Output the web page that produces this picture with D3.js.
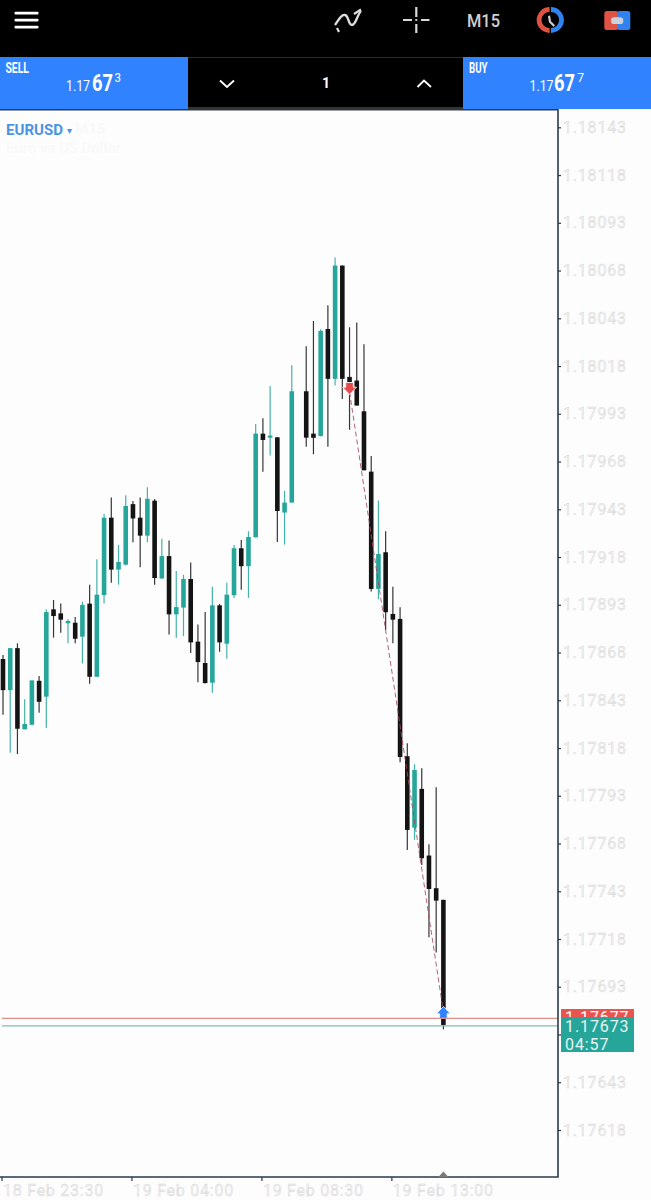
<!DOCTYPE html>
<html><head><meta charset="utf-8">
<script src="https://cdn.jsdelivr.net/npm/d3@7"></script>
<style>html,body{margin:0;padding:0;background:#fdfdfd}svg{display:block}text{font-family:Roboto,sans-serif}</style>
</head><body><svg id="c" width="651" height="1200"></svg>
<script>
// Values in price units ×100000 (i.e. 117866.7 = 1.178667). Index 41 has no bar.
const highs=[117866.7,117870.3,117872.8,117843.5,117853.4,117855.7,117890.6,117895.5,117893.7,117885.5,117886.6,117894.6,117903.5,117916.8,117940.5,117949.2,117924.3,117950.4,117947.3,117949.2,117954.5,117948.4,117927.6,117926.7,117910.7,117908.7,117915.2,117882.7,117889.2,117902.5,117893.4,117904.5,117924.3,117926.9,117931.5,117987.7,117990.6,118007.6,117980.7,117952.6,118018.4,null,118028.4,118041.6,118037.3,118049.8,118074.8,118070.6,118038.3,118040.8,118029.4,117970.9,117947.6,117931.5,117902.5,117891.7,117820.5,117809.5,117807.4,117767.6,117797.5,117738.5];
const lows=[117835.4,117815.5,117814.8,117827.8,117829.9,117836.5,117828.5,117875.8,117878.4,117872.8,117872.8,117862.3,117851.7,117855.3,117893.7,117904.5,117903.5,117913.6,117925.8,117912.6,117925.8,117903.5,117906.5,117877.5,117875.8,117876.6,117867.7,117852.5,117851.8,117847.0,117868.4,117864.8,117896.6,117900.9,117896.6,117928.3,117962.7,117971.1,117925.9,117924.5,117946.5,null,117975.8,117971.8,117981.1,117975.8,118007.8,118000.8,117984.6,117997.3,117963.4,117899.9,117895.9,117879.8,117872.8,117810.5,117764.6,117769.9,117756.8,117718.9,117710.9,117670.8];
const opens=[117864.6,117848.3,117870.3,117827.8,117830.2,117853.2,117844.9,117890.6,117888.5,117883.3,117883.6,117876.3,117893.6,117855.3,117898.1,117938.6,117911.4,117914.0,117945.7,117938.6,117929.2,117947.5,117906.8,117918.5,117888.0,117891.5,117906.5,117873.7,117862.5,117852.2,117892.7,117872.6,117898.0,117922.6,117913.2,117928.3,117982.6,117980.5,117980.7,117941.3,117946.5,null,118004.8,117982.6,117981.4,118037.4,118011.3,118070.6,118012.3,118010.4,117994.3,117962.7,117901.3,117920.5,117888.2,117885.6,117813.7,117776.3,117796.6,117761.7,117744.6,117738.5];
const closes=[117848.3,117870.3,117828.1,117830.6,117853.4,117842.2,117889.2,117887.1,117885.2,117884.5,117875.2,117892.9,117855.3,117898.3,117938.6,117911.4,117915.4,117944.7,117938.2,117929.2,117948.5,117907.0,117918.5,117888.0,117891.8,117906.5,117873.3,117863.0,117852.0,117892.7,117873.3,117898.3,117922.6,117913.2,117928.5,117982.6,117979.3,117981.6,117942.1,117946.5,118004.8,null,117980.5,117980.4,118036.4,118011.3,118070.6,118011.3,118009.5,117997.3,117963.4,117901.3,117919.6,117889.1,117885.2,117813.3,117775.1,117806.5,117760.3,117744.2,117738.1,117673.0];
const priceTicks=[1.18143,1.18118,1.18093,1.18068,1.18043,1.18018,1.17993,1.17968,1.17943,1.17918,1.17893,1.17868,1.17843,1.17818,1.17793,1.17768,1.17743,1.17718,1.17693,1.17668,1.17643,1.17618];
const timeIndex=[0,18,36,54];
const timeLabels=["18 Feb 23:30","19 Feb 04:00","19 Feb 08:30","19 Feb 13:00"];
const bidPrice=1.17673, askPrice=1.17677;
const tradeIndex=[48,61], tradePrice=[1.180044,1.176798];
const arrowPrice=[1.180065,1.176793];

const svg=d3.select("#c");
const TEAL="#26a69a",BLACK="#141414",BLUE="#3082ff",NAVY="#2b3a4e";
const x=d3.scaleLinear().domain([0,61]).range([3,443.4]);
const y=d3.scaleLinear().domain([1.18143,1.17618]).range([127.3,1130]);
const py=v=>y(v/100000);
const rect=(g,a,b,w,h,f)=>g.append("rect").attr("x",a).attr("y",b).attr("width",w).attr("height",h).attr("fill",f);

// chart
svg.append("rect").attr("width",651).attr("height",1200).attr("fill","#fdfdfd");
svg.append("text").attr("x",75).attr("y",134).attr("font-size",15).attr("font-weight",700).attr("fill","#f9f9f9").text("M15");
svg.append("text").attr("x",6).attr("y",153).attr("font-size",15).attr("font-weight",500).attr("fill","#f9f9f9").text("Euro vs US Dollar");

const bars=d3.range(highs.length).filter(i=>highs[i]!==null);
const isUp=i=>closes[i]>opens[i];
const g=svg.append("g");
g.selectAll("line.w").data(bars).join("line").attr("class","w")
 .attr("x1",x).attr("x2",x).attr("y1",i=>py(highs[i])).attr("y2",i=>py(lows[i]))
 .attr("stroke",i=>isUp(i)?TEAL:BLACK).attr("stroke-width",1.2).attr("opacity",.85);
g.selectAll("rect.b").data(bars).join("rect").attr("class","b")
 .attr("x",i=>x(i)-2.3).attr("width",4.6)
 .attr("y",i=>py(Math.max(opens[i],closes[i])))
 .attr("height",i=>Math.max(1.6,Math.abs(py(opens[i])-py(closes[i]))))
 .attr("fill",i=>isUp(i)?TEAL:BLACK);

// trade line + arrows
svg.append("path").attr("d",d3.line().x(d=>x(d[0])).y(d=>y(d[1]))(tradeIndex.map((d,i)=>[d,tradePrice[i]])))
 .attr("fill","none").attr("stroke","#a8475a").attr("stroke-width",1).attr("stroke-dasharray","5,3").attr("opacity",.85);
const arrowAt=(idx,p,dir,col)=>{
  const X=x(idx),Y=y(p);
  svg.append("path").attr("transform",`translate(${X},${Y}) scale(1,${dir})`)
   .attr("d","M0,-6.5L7,0.8L3.8,0.8L3.8,5.5L-3.8,5.5L-3.8,0.8L-7,0.8Z")
   .attr("fill",col).attr("stroke","#fff").attr("stroke-width",.8);
};
arrowAt(tradeIndex[0],arrowPrice[0],-1,"#e6494e");
arrowAt(tradeIndex[1],arrowPrice[1],1,BLUE);

// current price lines
[[askPrice,"#de8f8b"],[bidPrice,"#7dbdb8"]].forEach(([p,c])=>{
  svg.append("line").attr("x1",2).attr("x2",558).attr("y1",y(p)+1).attr("y2",y(p)+1).attr("stroke",c).attr("stroke-width",1.2);
});

// axes
const yAxis=svg.append("g").attr("transform","translate(558,0)")
 .call(d3.axisRight(y).tickValues(priceTicks).tickFormat(d3.format(".5f")).tickSize(3).tickPadding(2));
const xAxis=svg.append("g").attr("transform","translate(-1.5,1177)")
 .call(d3.axisBottom(x).tickValues(timeIndex).tickFormat((d,i)=>timeLabels[i]).tickSize(4).tickPadding(1));
[yAxis,xAxis].forEach(a=>{
  a.select(".domain").remove();
  a.selectAll(".tick line").attr("stroke",NAVY).attr("stroke-width",1.2);
  a.selectAll("text").attr("font-size",16).attr("font-family","Roboto,sans-serif")
   .attr("fill","#f0f0f0").attr("stroke","#d6d6d6").attr("stroke-width",.35);
});
yAxis.selectAll("text").style("letter-spacing","0.8px");
xAxis.selectAll("text").attr("text-anchor","start").attr("x",1).attr("y",13).attr("dy",".35em").style("letter-spacing","0.75px");
svg.append("path").attr("d","M0,1177H558V109").attr("fill","none").attr("stroke",NAVY).attr("stroke-width",1.6);
svg.append("path").attr("transform",`translate(${x(61)},1177)`).attr("d","M-5,0L0,-5.5L5,0Z").attr("fill","#7a7a7a");

// price tags
rect(svg,561,1009,73,12,"#ea5450");
svg.append("text").attr("x",565).attr("y",1023).attr("font-size",16).attr("fill","#fff").style("letter-spacing","0.9px").text(askPrice.toFixed(5));
rect(svg,561,1017,73,35,TEAL);
svg.append("text").attr("x",565).attr("y",1032).attr("font-size",16).attr("fill","#e6f4f2").style("letter-spacing","0.9px").text(bidPrice.toFixed(5));
svg.append("text").attr("x",565).attr("y",1050).attr("font-size",16).attr("fill","#e6f4f2").style("letter-spacing","0.9px").text("04:57");

// header
rect(svg,0,0,651,57,"#000");
rect(svg,0,57,188,52,BLUE); rect(svg,188,57,275,51,"#000"); rect(svg,463,57,188,52,BLUE);
rect(svg,188,57,275,1,"#2a2a30"); rect(svg,188,107,275,2,"#333");
rect(svg,0,109,558,1.5,NAVY);
[13,20,27].forEach(v=>rect(svg,14.5,v-1.3,24,2.8,"#fff").attr("rx",1));
const T=(s,a,b,fs,w,fw,col)=>{const t=svg.append("text").attr("x",a).attr("y",b).attr("font-size",fs).attr("font-weight",fw||400).attr("fill",col||"#fff").text(s);if(w)t.attr("textLength",w).attr("lengthAdjust","spacingAndGlyphs");return t;};
T("M15",467,27,19,33,500,"#d0d0d0");
T("SELL",5.4,73,14,23.6,700); T("BUY",469,73,14,18.6,700);
T("1.17",66,91,15,24,400); T("67",92,91,24,21,700); T("3",114.5,82,13,6.5,400);
T("1.17",529.5,91,15,24,400); T("67",554,91,24,21,700); T("7",577.2,82,13,6.8,400);
T("1",322,88,14,null,700);
const stroke=(d,col,w)=>svg.append("path").attr("d",d).attr("fill","none").attr("stroke",col||"#fff").attr("stroke-width",w||1.8);
stroke("M220,80.5L227,87L234,80.5"); stroke("M417.5,87L424,80.5L431,87");
// indicator icon
stroke("M335,25C339,19 342,14 345,15C349,16 348,25 352,25C356,25 357,15 361,11","#ddd",2.4);
stroke("M337,28L339,32M354,14L361,9.5","#ddd",2.2);
// crosshair
stroke("M403,20H412M421,20H429.5M416.3,7V17M416.3,24V33","#d8d8d8",2.2);
stroke("M415.3,20H417.3","#ddd",1.8);
// clock icon
stroke("M549.6,9.5A10.5,10.5 0 0 0 549.6,30.5","#de5242",4.8);
stroke("M551,9.5A10.5,10.5 0 0 1 551,30.5","#2f82f0",4.8);
stroke("M549,15.7L550,21.7L554.3,26","#ccc",2.2);
// split icon
rect(svg,604.3,11,14,19,"#e05244").attr("rx",2.5);
rect(svg,617,11,13.3,19,"#2f82f0").attr("rx",2.5);
rect(svg,611,17.3,12.3,6.8,"#c9d1da").attr("rx",3.2);
// symbol
T("EURUSD",6,134.5,15,57,700,"#4a94e6");
T("▾",67,134,10,null,400,"#4a94e6");
</script></body></html>
